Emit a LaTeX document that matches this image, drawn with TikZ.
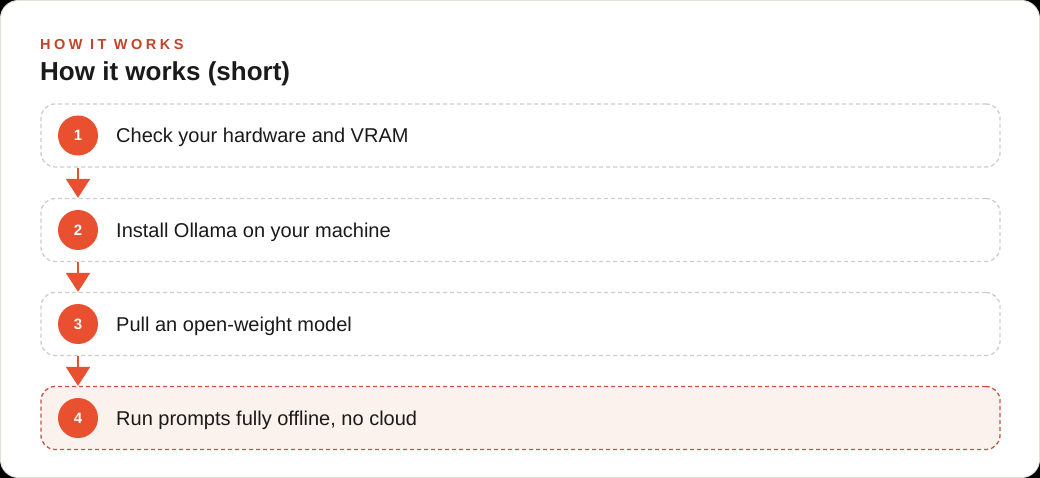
\documentclass[tikz,border=0pt]{standalone}
\usepackage{fontspec}
\setmainfont{Liberation Sans}
\usetikzlibrary{arrows.meta}
\definecolor{accent}{HTML}{E8502F}
\definecolor{kicker}{HTML}{C2452B}
\definecolor{ink}{HTML}{1A1A1A}
\definecolor{cardline}{HTML}{E2E0DA}
\definecolor{dashgray}{HTML}{CDCDCD}
\definecolor{lastline}{HTML}{C9533F}
\definecolor{lastfill}{HTML}{FBF1ED}
\newfontfamily\kickerfont[LetterSpace=24]{Liberation Sans}

\begin{document}
\begin{tikzpicture}[x=1pt,y=-1pt,
  stepbox/.style={draw=dashgray,line width=1.3pt,dash pattern=on 4pt off 3pt,
    rounded corners=14pt,minimum width=959pt,minimum height=63pt,inner sep=0pt},
  laststep/.style={stepbox,draw=lastline,fill=lastfill},
  badge/.style={circle,fill=accent,text=white,minimum size=40pt,inner sep=0pt,
    font=\fontsize{15}{17}\selectfont\bfseries},
  steptext/.style={anchor=base west,text=ink,inner sep=0pt,font=\fontsize{20}{24}\selectfont},
  flow/.style={draw=accent,line width=2pt,-{Triangle[width=24pt,length=19pt]}}]
% card
\fill[black] (0,0) rectangle (1040,478);
\filldraw[fill=white,draw=cardline,line width=1pt,rounded corners=18pt] (0.5,0.5) rectangle (1039.5,477.5);
% heading
\node[anchor=base west,inner sep=0pt,text=kicker,font=\fontsize{14.5}{16}\kickerfont\bfseries] (kick) at (40,50) {HOW IT WORKS};
\node[anchor=base west,inner sep=0pt,text=ink,font=\fontsize{26}{30}\selectfont\bfseries] (title) at (40,81) {How it works (short)};
% steps
\node[stepbox] (s1) at (520.5,135.5) {};
\node[stepbox] (s2) at (520.5,230) {};
\node[stepbox] (s3) at (520.5,324) {};
\node[laststep] (s4) at (520.5,418) {};
\node[badge] (n1) at (78,135.5) {1};
\node[badge] (n2) at (78,230) {2};
\node[badge] (n3) at (78,324) {3};
\node[badge] (n4) at (78,418) {4};
\node[steptext] (t1) at (116,143) {Check your hardware and VRAM};
\node[steptext] (t2) at (116,237.5) {Install Ollama on your machine};
\node[steptext] (t3) at (116,331.5) {Pull an open-weight model};
\node[steptext] (t4) at (116,425.5) {Run prompts fully offline, no cloud};
% arrows
\draw[flow] (n1 |- s1.south) -- (n2 |- s2.north);
\draw[flow] (n2 |- s2.south) -- (n3 |- s3.north);
\draw[flow] (n3 |- s3.south) -- (n4 |- s4.north);
\end{tikzpicture}
\end{document}
